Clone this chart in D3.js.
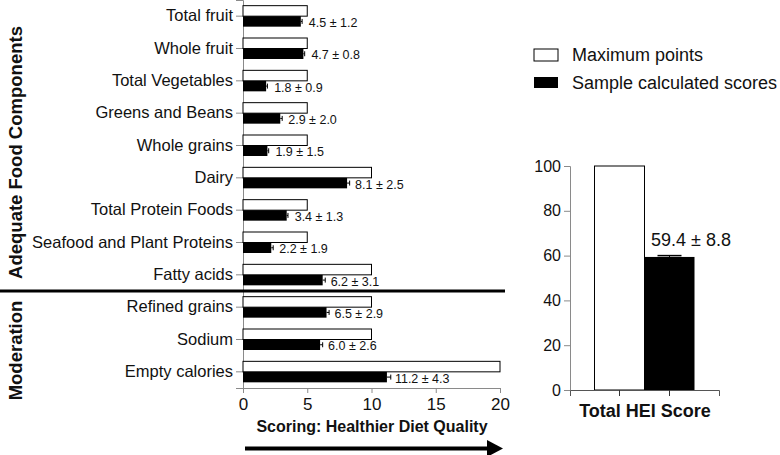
<!DOCTYPE html>
<html><head><meta charset="utf-8">
<script src="https://cdn.jsdelivr.net/npm/d3@7"></script>
<style>body{margin:0;background:#fff;}svg{display:block;font-family:"Liberation Sans",Arial,sans-serif;}</style>
</head><body>
<svg id="c" width="780" height="455"></svg>
<script>
const categories = ["Total fruit","Whole fruit","Total Vegetables","Greens and Beans","Whole grains","Dairy","Total Protein Foods","Seafood and Plant Proteins","Fatty acids","Refined grains","Sodium","Empty calories"];
const maxPts = [5,5,5,5,5,10,5,5,10,10,10,20];
const sampleMean = [4.5,4.7,1.8,2.9,1.9,8.1,3.4,2.2,6.2,6.5,6.0,11.2];
const sampleSD = [1.2,0.8,0.9,2.0,1.5,2.5,1.3,1.9,3.1,2.9,2.6,4.3];
const whisker = [0.1,0.1,0.1,0.15,0.1,0.2,0.1,0.15,0.2,0.2,0.2,0.3];
const groups = [{name:"Adequate Food Components", from:0, to:8},{name:"Moderation", from:9, to:11}];
const xTicks = [0,5,10,15,20];
const totalCats = ["Maximum points","Sample calculated scores"];
const totalVals = [100,59.4];
const totalSD = 8.8;
const totalWhisker = 0.6;
const yTicksTotal = [0,20,40,60,80,100];

const svg = d3.select("#c");
const axisGray = "#8a8a8a";
const FF = "Liberation Sans, Arial, sans-serif";

// ---------- Left chart ----------
const x = d3.scaleLinear().domain([0,20]).range([243,500]);
const y = d3.scaleBand().domain(categories).range([0,388]);
const barH = 10.5;

const gx = svg.append("g").attr("transform","translate(0,388)")
  .call(d3.axisBottom(x).tickValues(xTicks).tickSizeOuter(0).tickSize(5).tickPadding(5));
gx.select(".domain").attr("stroke",axisGray);
gx.selectAll(".tick line").attr("stroke",axisGray);
gx.selectAll("text").attr("font-size",17).attr("fill","#111").attr("font-family",FF);

const gy = svg.append("g").attr("transform","translate(243,0)")
  .call(d3.axisLeft(y).tickSizeOuter(0).tickSize(7).tickPadding(3));
gy.select(".domain").attr("stroke",axisGray);
gy.selectAll(".tick line").attr("stroke",axisGray);
gy.selectAll("text").attr("font-size",16.5).attr("fill","#111").attr("font-family",FF);

const rows = svg.append("g");
categories.forEach((c,i)=>{
  const cy = y(c) + y.bandwidth()/2;
  rows.append("rect").attr("x",x(0)).attr("y",cy-barH).attr("width",x(maxPts[i])-x(0)).attr("height",barH)
    .attr("fill","#fff").attr("stroke","#000").attr("stroke-width",1);
  rows.append("rect").attr("x",x(0)).attr("y",cy).attr("width",x(sampleMean[i])-x(0)).attr("height",barH)
    .attr("fill","#000");
  const xe = x(sampleMean[i]+whisker[i]);
  rows.append("line").attr("x1",x(sampleMean[i])).attr("x2",xe).attr("y1",cy+barH/2).attr("y2",cy+barH/2).attr("stroke","#000");
  rows.append("line").attr("x1",xe).attr("x2",xe).attr("y1",cy+barH/2-2.5).attr("y2",cy+barH/2+2.5).attr("stroke","#000");
  rows.append("text").attr("x",x(sampleMean[i])+8).attr("y",cy+barH/2+5.5)
    .attr("font-size",12.5).attr("fill","#111")
    .text(sampleMean[i].toFixed(1)+" \u00b1 "+sampleSD[i].toFixed(1));
});

// separator
const sepY = (y(categories[8])+y.bandwidth() + y(categories[9]))/2;
svg.append("line").attr("x1",0).attr("x2",505).attr("y1",sepY).attr("y2",sepY).attr("stroke","#000").attr("stroke-width",3);

// group labels
const groupShift = [7, 11];
groups.forEach((g,k)=>{
  const cy = (y(categories[g.from]) + y(categories[g.to]) + y.bandwidth())/2 + groupShift[k];
  svg.append("text").attr("transform",`translate(22,${cy}) rotate(-90)`).attr("text-anchor","middle")
    .attr("font-size",18.5).attr("font-weight","bold").attr("fill","#111").text(g.name);
});

// x title + arrow
svg.append("text").attr("x",372).attr("y",432).attr("text-anchor","middle").attr("font-size",16)
  .attr("font-weight","bold").attr("fill","#111").text("Scoring: Healthier Diet Quality");
svg.append("line").attr("x1",245).attr("x2",490).attr("y1",448.5).attr("y2",448.5).attr("stroke","#000").attr("stroke-width",4);
svg.append("path").attr("d","M487,440 L503,448.5 L487,457 Z").attr("fill","#000");

// legend
const leg = svg.append("g");
leg.append("rect").attr("x",534).attr("y",49).attr("width",24).attr("height",12).attr("fill","#fff").attr("stroke","#000");
leg.append("rect").attr("x",534).attr("y",77).attr("width",24).attr("height",11).attr("fill","#000");
leg.append("text").attr("x",572).attr("y",61).attr("font-size",18).attr("fill","#111").text(totalCats[0]);
leg.append("text").attr("x",572).attr("y",89).attr("font-size",18).attr("fill","#111").text(totalCats[1]);

// ---------- Right chart ----------
const y2 = d3.scaleLinear().domain([0,100]).range([390,166]);
const x2 = d3.scaleBand().domain(totalCats).range([570,719]).paddingInner(0).paddingOuter(0.49);

const gy2 = svg.append("g").attr("transform","translate(570,0)")
  .call(d3.axisLeft(y2).tickValues(yTicksTotal).tickSizeOuter(0).tickSize(6).tickPadding(3));
gy2.select(".domain").attr("stroke",axisGray);
gy2.selectAll(".tick line").attr("stroke",axisGray);
gy2.selectAll("text").attr("font-size",16).attr("fill","#111").attr("font-family",FF);

svg.append("rect").attr("x",x2(totalCats[0])).attr("y",y2(totalVals[0])).attr("width",x2.bandwidth()).attr("height",y2(0)-y2(totalVals[0]))
  .attr("fill","#fff").attr("stroke","#000").attr("stroke-width",1);
svg.append("rect").attr("x",x2(totalCats[1])).attr("y",y2(totalVals[1])).attr("width",x2.bandwidth()).attr("height",y2(0)-y2(totalVals[1]))
  .attr("fill","#000");
const bc = x2(totalCats[1])+x2.bandwidth()/2;
svg.append("line").attr("x1",bc).attr("x2",bc).attr("y1",y2(totalVals[1])).attr("y2",y2(totalVals[1]+totalWhisker)).attr("stroke","#000");
svg.append("line").attr("x1",bc-12).attr("x2",bc+12).attr("y1",y2(totalVals[1]+totalWhisker)).attr("y2",y2(totalVals[1]+totalWhisker)).attr("stroke","#000").attr("stroke-width",1.5);

const gx2 = svg.append("g").attr("transform","translate(0,390)")
  .call(d3.axisBottom(x2).tickSizeOuter(0).tickSize(6).tickFormat(""));
gx2.select(".domain").attr("stroke","#555");
gx2.selectAll(".tick line").attr("stroke","#333");

svg.append("text").attr("x",691).attr("y",246).attr("text-anchor","middle").attr("font-size",18).attr("fill","#111")
  .text(totalVals[1].toFixed(1)+" \u00b1 "+totalSD.toFixed(1));
svg.append("text").attr("x",645).attr("y",417).attr("text-anchor","middle").attr("font-size",18).attr("font-weight","bold")
  .attr("fill","#111").text("Total HEI Score");
</script>
</body></html>
